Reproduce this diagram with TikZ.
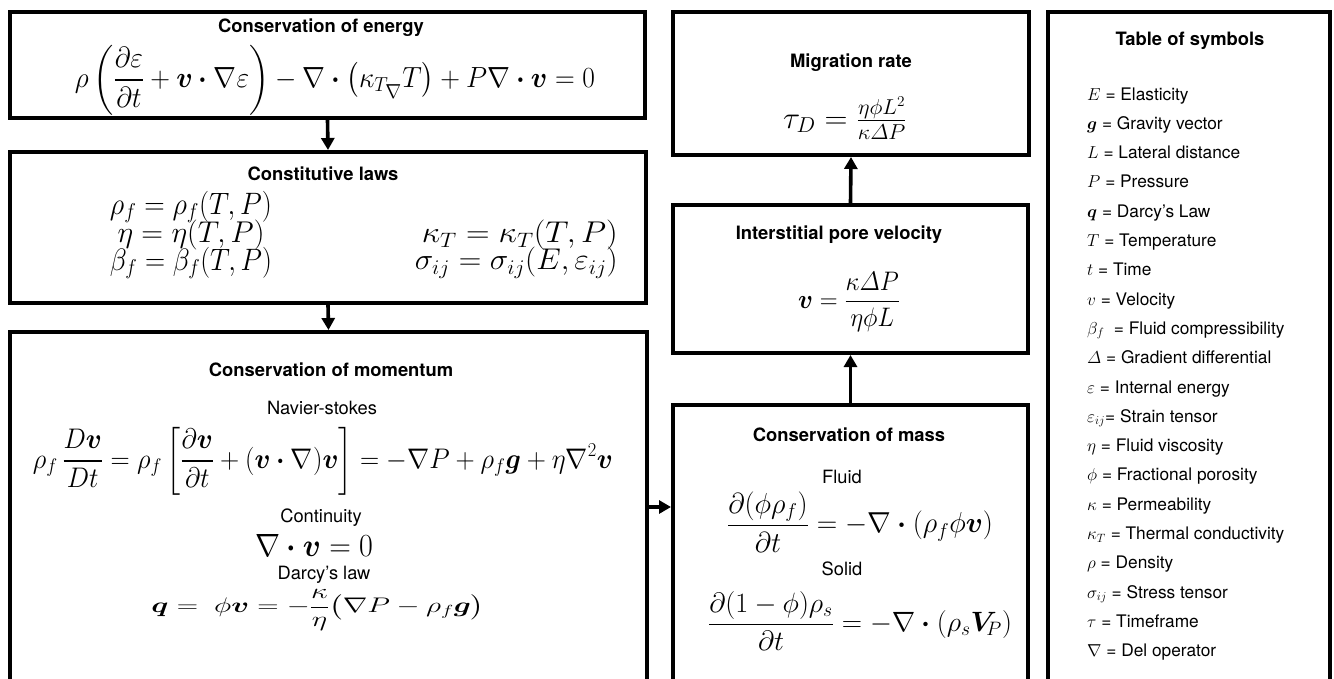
\documentclass[tikz,border=0pt]{standalone}
\usepackage{amsmath}
\usepackage{bm}
\usepackage{graphicx}
\usepackage{fontspec}
\setmainfont{TeX Gyre Heros}
\usetikzlibrary{arrows.meta}
\newcommand\EQ[3]{\resizebox*{#1pt}{#2pt}{\fontsize{24}{28}\selectfont$\displaystyle #3$}}
\newcommand\bdot{\mathbin{\bm{\cdot}}}
\begin{document}
\begin{tikzpicture}[x=1pt,y=-1pt,
  box/.style={draw,line width=4pt,inner sep=0pt},
  arr/.style={line width=3.6pt,-{Triangle[length=12pt,width=13pt]}},
  ttl/.style={inner sep=0pt,font=\fontsize{18.4}{21}\selectfont\bfseries},
  lbl/.style={inner sep=0pt,font=\fontsize{18.3}{21}\selectfont},
  sym/.style={inner sep=0pt,anchor=base west,font=\fontsize{17.3}{20}\selectfont},
  eq/.style={inner sep=0pt}]
\useasboundingbox (0,0) rectangle (1334,678);
\clip (0,0) rectangle (1334,678);
% boxes
\node[box,minimum width=635pt,minimum height=106pt] (energy) at (327.5,65) {};
\node[box,minimum width=636pt,minimum height=151pt] (const) at (328,227.5) {};
\node[box,minimum width=637pt,minimum height=368pt] (mom) at (328.5,516) {};
\node[box,minimum width=356pt,minimum height=143pt] (mig) at (851,83.5) {};
\node[box,minimum width=355pt,minimum height=148pt] (vel) at (850.5,279) {};
\node[box,minimum width=355pt,minimum height=295pt] (mass) at (850.5,552.5) {};
\node[box,minimum width=282pt,minimum height=688pt] (table) at (1189,356) {};
% energy
\node[ttl] (t1) at (321,28) {Conservation of energy};
\node[eq] (e1) at (335,80) {\EQ{520}{70}{\rho\left(\frac{\partial\varepsilon}{\partial t}+\bm{v}\bdot\nabla\varepsilon\right)-\nabla\bdot\left(\kappa_{T_{\scriptstyle\nabla}}T\right)+P\nabla\bdot\bm{v}=0}};
% constitutive
\node[ttl] (t2) at (323,174) {Constitutive laws};
\node[eq] (c1) at (191,207) {\EQ{162}{32}{\rho_f=\rho_f(T,P)}};
\node[eq] (c2) at (191,235) {\EQ{147}{30}{\eta=\eta(T,P)}};
\node[eq] (c3) at (191,263) {\EQ{162}{32}{\beta_f=\beta_f(T,P)}};
\node[eq,anchor=east] (c4) at (618,235) {\EQ{196}{30}{\kappa_T=\kappa_T(T,P)}};
\node[eq,anchor=east] (c5) at (618,263) {\EQ{203}{31}{\sigma_{ij}=\sigma_{ij}(E,\varepsilon_{ij})}};
% momentum
\node[ttl] (t3) at (331,370) {Conservation of momentum};
\node[lbl] (l1) at (322,408) {Navier-stokes};
\node[eq] (m1) at (323,461) {\EQ{580}{68}{\rho_f\,\frac{D\bm{v}}{Dt}=\rho_f\left[\frac{\partial\bm{v}}{\partial t}+(\bm{v}\bdot\nabla)\bm{v}\right]=-\nabla P+\rho_f\bm{g}+\eta\nabla^2\bm{v}}};
\node[lbl] (l2) at (321,518) {Continuity};
\node[eq] (m2) at (314,545) {\EQ{118}{22}{\nabla\bdot\bm{v}=0}};
\node[lbl] (l3) at (324,575) {Darcy's law};
\node[eq] (m3) at (318,610) {\EQ{333}{42}{\bm{q}=\ \phi\bm{v}=-\frac{\kappa}{\eta}\big(\nabla P-\rho_f\bm{g}\big)}};
% migration
\node[ttl] (t4) at (851,63) {Migration rate};
\node[eq] (g1) at (845,118) {\EQ{124}{42}{\tau_D=\tfrac{\eta\phi L^2}{\kappa\varDelta P}}};
% velocity
\node[ttl] (t5) at (839,235) {Interstitial pore velocity};
\node[eq] (v1) at (849,302) {\EQ{102}{60}{\bm{v}=\frac{\kappa\varDelta P}{\eta\phi L}}};
% mass
\node[ttl] (t6) at (849,435) {Conservation of mass};
\node[lbl] (l4) at (842,477) {Fluid};
\node[eq] (s1) at (860,522) {\EQ{266}{61}{\frac{\partial(\phi\rho_f)}{\partial t}=-\nabla\bdot(\rho_f\phi\bm{v})}};
\node[lbl] (l5) at (842,569) {Solid};
\node[eq] (s2) at (860,621) {\EQ{304}{59}{\frac{\partial(1-\phi)\rho_s}{\partial t}=-\nabla\bdot(\rho_s\bm{V}_{\!P})}};
% table
\node[ttl] (tt) at (1190,41) {Table of symbols};
\foreach \i/\s in {0/{$E$ = Elasticity},1/{$\bm{g}$ = Gravity vector},2/{$L$ = Lateral distance},3/{$P$ = Pressure},4/{$\bm{q}$ = Darcy's Law},5/{$T$ = Temperature},6/{$t$ = Time},7/{$v$ = Velocity},8/{$\beta_f$\ \ = Fluid compressibility},9/{$\varDelta$ = Gradient differential},10/{$\varepsilon$ = Internal energy},11/{$\varepsilon_{ij}$= Strain tensor},12/{$\eta$ = Fluid viscosity},13/{$\phi$ = Fractional porosity},14/{$\kappa$ = Permeability},15/{$\kappa_T$ = Thermal conductivity},16/{$\rho$ = Density},17/{$\sigma_{ij}$ = Stress tensor},18/{$\tau$ = Timeframe},19/{$\nabla$ = Del operator}}
  \node[sym] (sym\i) at (1087,100+29.3*\i) {\s};
% connectors
\draw[arr] (energy.south) -- (const.north);
\draw[arr] (const.south) -- (mom.north);
\coordinate (ma) at (660,507);
\draw[arr] (mom.east |- ma) -- (mass.west |- ma);
\draw[arr] (mass.north) -- (vel.south);
\draw[arr] (vel.north) -- (mig.south);
\end{tikzpicture}
\end{document}
